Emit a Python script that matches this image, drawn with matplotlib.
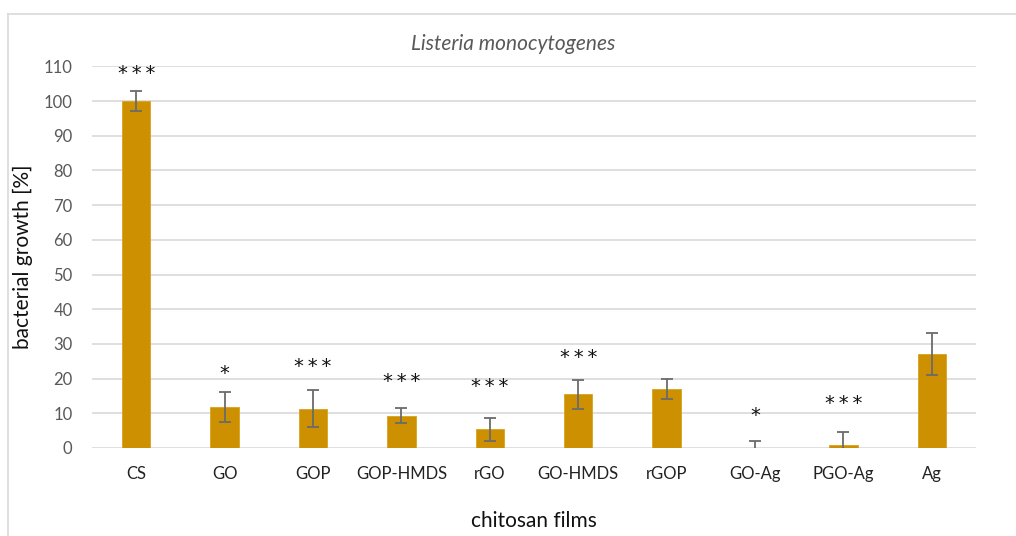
import matplotlib.pyplot as plt
from matplotlib.lines import Line2D

films = ["CS", "GO", "GOP", "GOP-HMDS", "rGO", "GO-HMDS", "rGOP", "GO-Ag", "PGO-Ag", "Ag"]
growth = [100, 11.8, 11.3, 9.3, 5.4, 15.5, 17.0, 0.0, 0.8, 27.0]
sd = [3.0, 4.4, 5.3, 2.1, 3.3, 4.2, 3.0, 2.1, 3.7, 6.1]
stars = ["***", "*", "***", "***", "***", "***", "", "*", "***", ""]
star_y = [108, 21.5, 23.4, 19.1, 17.7, 26.0, 0, 9.5, 12.7, 0]

plt.rcParams["font.family"] = ["Lato", "DejaVu Sans"]

fig = plt.figure(figsize=(10.16, 5.36), dpi=100)
W, H = 1016, 536
ax = fig.add_axes([92 / W, (H - 448) / H, (976 - 92) / W, (448 - 66.3) / H])

x = range(len(films))
ax.bar(x, growth, width=0.32, color="#cc9000", edgecolor="#d9a21a", linewidth=0.6, zorder=2)
ax.errorbar(x, growth, yerr=sd, fmt="none", ecolor="#6b6b6b", elinewidth=1.3,
            capsize=4, capthick=1.3, zorder=3)

for i, s in enumerate(stars):
    if s:
        ax.text(i, star_y[i], "\u2009".join(s), ha="center", va="center", fontsize=14,
                family="DejaVu Sans", color="#111111")

ax.set_xlim(-0.5, len(films) - 0.5)
ax.set_ylim(0, 110)
ax.set_yticks(range(0, 111, 10))
ax.set_xticks(list(x))
ax.set_xticklabels(films, fontsize=12, color="#222222")
ax.tick_params(axis="y", length=0, labelsize=12, labelcolor="#595959", pad=14)
ax.tick_params(axis="x", length=0, pad=13)
ax.grid(axis="y", color="#d9d9d9", linewidth=1.2, zorder=0)
ax.set_axisbelow(True)
for side in ["top", "right", "left", "bottom"]:
    ax.spines[side].set_visible(False)

ax.set_ylabel("bacterial growth [%]", fontsize=15, color="#111111", labelpad=8)
ax.set_xlabel("chitosan films", fontsize=15, color="#111111", labelpad=21)
fig.text(513 / W, 1 - 44 / H, "Listeria monocytogenes", ha="center", va="center",
         fontsize=15, style="italic", color="#595959")

# light frame around the chart area
fig.add_artist(Line2D([8 / W, 1], [1 - 14 / H, 1 - 14 / H], transform=fig.transFigure,
                      color="#d9d9d9", linewidth=1.2))
fig.add_artist(Line2D([8 / W, 8 / W], [0, 1 - 14 / H], transform=fig.transFigure,
                      color="#d9d9d9", linewidth=1.2))

fig.savefig("out.png", dpi=100)
